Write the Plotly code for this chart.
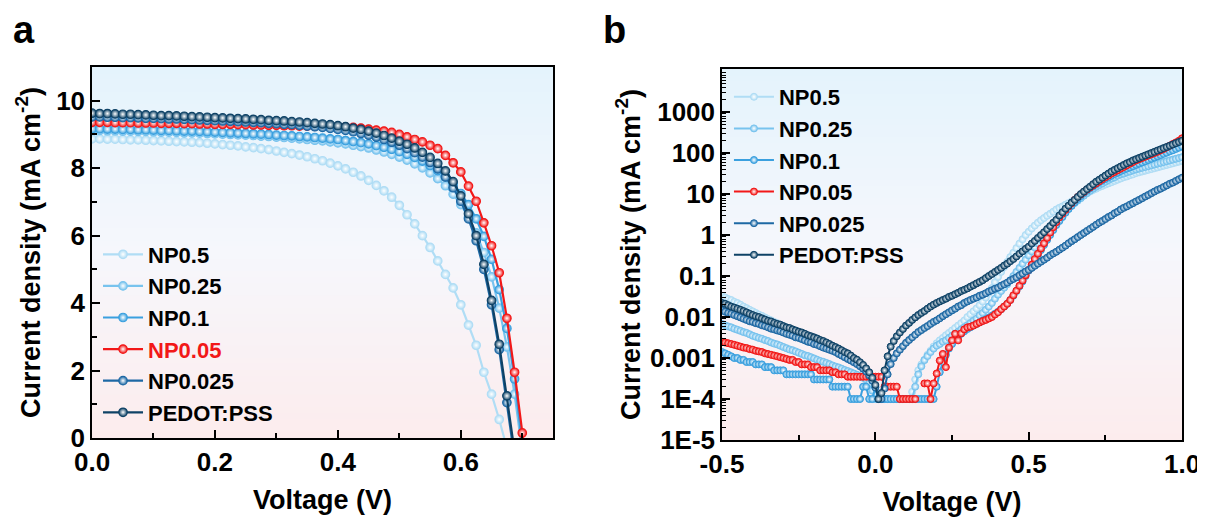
import plotly.graph_objects as go

# ---------------- data: panel a (J-V under illumination) ----------------
names = ["NP0.5", "NP0.25", "NP0.1", "NP0.05", "NP0.025", "PEDOT:PSS"]
colors = ["#b0ddf5", "#78c3ee", "#3aa0df", "#f21818", "#1d68a4", "#0e4266"]

Va = [0.0, 0.0125, 0.025, 0.0375, 0.05, 0.0625, 0.075, 0.0875, 0.1,
      0.1125, 0.125, 0.1375, 0.15, 0.1625, 0.175, 0.1875, 0.2,
      0.2125, 0.225, 0.2375, 0.25, 0.2625, 0.275, 0.2875, 0.3,
      0.3125, 0.325, 0.3375, 0.35, 0.3625, 0.375, 0.3875, 0.4,
      0.4125, 0.425, 0.4375, 0.45, 0.4625, 0.475, 0.4875, 0.5,
      0.5125, 0.525, 0.5375, 0.55, 0.5625, 0.575, 0.5875, 0.6,
      0.6125, 0.625, 0.6375, 0.65, 0.6625, 0.675, 0.6875, 0.7,
      0.7125]

Ja_np05 = [8.87, 8.87, 8.86, 8.86, 8.85, 8.84, 8.84, 8.83, 8.82,
           8.81, 8.80, 8.79, 8.78, 8.77, 8.76, 8.74, 8.72,
           8.70, 8.68, 8.66, 8.63, 8.61, 8.58, 8.55, 8.51,
           8.47, 8.43, 8.39, 8.34, 8.28, 8.22, 8.15, 8.07,
           7.98, 7.88, 7.77, 7.64, 7.49, 7.33, 7.14, 6.90,
           6.62, 6.35, 6.00, 5.65, 5.25, 4.85, 4.45, 3.95,
           3.35, 2.75, 1.95, 1.30, 0.55, -0.3, None, None,
           None]
Ja_np025 = [9.12, 9.12, 9.11, 9.11, 9.10, 9.10, 9.09, 9.09, 9.08,
            9.07, 9.07, 9.06, 9.05, 9.05, 9.04, 9.03, 9.02,
            9.01, 9.00, 8.99, 8.98, 8.97, 8.95, 8.94, 8.92,
            8.91, 8.89, 8.87, 8.85, 8.83, 8.81, 8.78, 8.75,
            8.72, 8.68, 8.64, 8.60, 8.54, 8.48, 8.41, 8.33,
            8.24, 8.13, 8.01, 7.86, 7.69, 7.48, 7.23, 6.92,
            6.55, 6.08, 5.50, 4.78, 3.85, 2.70, 1.30, -0.4,
            None]
Ja_np01 = [9.17, 9.17, 9.16, 9.16, 9.15, 9.15, 9.14, 9.14, 9.13,
           9.12, 9.12, 9.11, 9.10, 9.10, 9.09, 9.08, 9.07,
           9.06, 9.05, 9.04, 9.03, 9.02, 9.01, 9.00, 8.98,
           8.97, 8.96, 8.94, 8.93, 8.91, 8.89, 8.87, 8.85,
           8.82, 8.79, 8.76, 8.72, 8.67, 8.62, 8.56, 8.49,
           8.41, 8.32, 8.21, 8.08, 7.93, 7.75, 7.53, 7.25,
           6.92, 6.50, 5.98, 5.30, 4.40, 3.25, 1.75, -0.2,
           None]
Ja_np005 = [9.36, 9.36, 9.36, 9.35, 9.35, 9.35, 9.34, 9.34, 9.34,
            9.33, 9.33, 9.33, 9.32, 9.32, 9.31, 9.31, 9.30,
            9.30, 9.30, 9.29, 9.29, 9.28, 9.28, 9.27, 9.27,
            9.26, 9.26, 9.25, 9.25, 9.24, 9.24, 9.23, 9.23,
            9.22, 9.21, 9.19, 9.16, 9.13, 9.10, 9.06, 9.00,
            8.93, 8.85, 8.78, 8.68, 8.58, 8.38, 8.16, 7.89,
            7.47, 7.02, 6.38, 5.70, 4.90, 3.55, 1.95, 0.15,
            -1.6]
Ja_np0025 = [9.52, 9.52, 9.51, 9.51, 9.50, 9.50, 9.49, 9.48, 9.48,
             9.47, 9.46, 9.46, 9.45, 9.44, 9.43, 9.42, 9.41,
             9.40, 9.39, 9.38, 9.37, 9.36, 9.35, 9.33, 9.32,
             9.30, 9.29, 9.27, 9.25, 9.23, 9.21, 9.18, 9.15,
             9.12, 9.08, 9.03, 8.98, 8.92, 8.85, 8.77, 8.68,
             8.58, 8.46, 8.33, 8.17, 7.98, 7.74, 7.42, 7.02,
             6.50, 5.85, 5.00, 3.95, 2.62, 1.05, -0.6, None,
             None]
Ja_pedot = [9.63, 9.62, 9.62, 9.61, 9.60, 9.60, 9.59, 9.58, 9.57,
            9.56, 9.56, 9.55, 9.54, 9.53, 9.52, 9.51, 9.50,
            9.49, 9.48, 9.47, 9.46, 9.45, 9.44, 9.42, 9.41,
            9.40, 9.38, 9.37, 9.35, 9.33, 9.31, 9.29, 9.26,
            9.23, 9.19, 9.15, 9.10, 9.04, 8.97, 8.89, 8.80,
            8.71, 8.60, 8.47, 8.32, 8.14, 7.92, 7.60, 7.18,
            6.65, 6.00, 5.15, 4.08, 2.78, 1.25, -0.4, None,
            None]

# ---------------- data: panel b (dark J-V, log scale) ----------------
Vb = [-0.50, -0.49, -0.48, -0.47, -0.46, -0.45, -0.44, -0.43, -0.42, -0.41,
      -0.40, -0.39, -0.38, -0.37, -0.36, -0.35, -0.34, -0.33, -0.32, -0.31,
      -0.30, -0.29, -0.28, -0.27, -0.26, -0.25, -0.24, -0.23, -0.22, -0.21,
      -0.20, -0.19, -0.18, -0.17, -0.16, -0.15, -0.14, -0.13, -0.12, -0.11,
      -0.10, -0.09, -0.08, -0.07, -0.06, -0.05, -0.04, -0.03, -0.02, -0.01,
      0.00, 0.01, 0.02, 0.03, 0.04, 0.05, 0.06, 0.07, 0.08, 0.09,
      0.10, 0.11, 0.12, 0.13, 0.14, 0.15, 0.16, 0.17, 0.18, 0.19,
      0.20, 0.21, 0.22, 0.23, 0.24, 0.25, 0.26, 0.27, 0.28, 0.29,
      0.30, 0.31, 0.32, 0.33, 0.34, 0.35, 0.36, 0.37, 0.38, 0.39,
      0.40, 0.41, 0.42, 0.43, 0.44, 0.45, 0.46, 0.47, 0.48, 0.49,
      0.50, 0.51, 0.52, 0.53, 0.54, 0.55, 0.56, 0.57, 0.58, 0.59,
      0.60, 0.61, 0.62, 0.63, 0.64, 0.65, 0.66, 0.67, 0.68, 0.69,
      0.70, 0.71, 0.72, 0.73, 0.74, 0.75, 0.76, 0.77, 0.78, 0.79,
      0.80, 0.81, 0.82, 0.83, 0.84, 0.85, 0.86, 0.87, 0.88, 0.89,
      0.90, 0.91, 0.92, 0.93, 0.94, 0.95, 0.96, 0.97, 0.98, 0.99,
      1.00]

Jb_np05 = [3.3e-2, 3.0e-2, 2.75e-2, 2.6e-2, 2.35e-2, 2.2e-2, 2.0e-2, 1.8e-2, 1.65e-2, 1.5e-2,
           1.38e-2, 1.26e-2, 1.15e-2, 1.07e-2, 9.8e-3, 8.9e-3, 8.3e-3, 7.6e-3, 7.1e-3, 6.5e-3,
           6.0e-3, 5.6e-3, 5.2e-3, 4.9e-3, 4.6e-3, 4.3e-3, 4.0e-3, 3.7e-3, 3.5e-3, 3.2e-3,
           3.0e-3, 2.8e-3, 2.6e-3, 2.45e-3, 2.3e-3, 2.15e-3, 1.95e-3, 1.8e-3, 1.6e-3, 1.5e-3,
           1.35e-3, 1.2e-3, 1.07e-3, 9.5e-4, 8.3e-4, 7.1e-4, 5.9e-4, 4.7e-4, 3.5e-4, 2.2e-4,
           1e-4, 1e-4, 1e-4, 1e-4, 1e-4, 1e-4, 1e-4, 1e-4, 1e-4, 1e-4,
           1e-4, 1e-4, 1.5e-4, 3e-4, 5e-4, 7e-4, 9e-4, 1.2e-3, 1.5e-3, 1.9e-3,
           2.3e-3, 2.7e-3, 3.1e-3, 3.6e-3, 4.1e-3, 4.7e-3, 5.4e-3, 6.2e-3, 7.1e-3, 8.2e-3,
           1.0e-2, 1.17e-2, 1.38e-2, 1.62e-2, 1.95e-2, 2.4e-2, 3.0e-2, 3.9e-2, 5.1e-2, 7.1e-2,
           9.5e-2, 0.126, 0.166, 0.22, 0.29, 0.37, 0.48, 0.62, 0.79, 1.0,
           1.2, 1.45, 1.7, 2.0, 2.3, 2.6, 2.95, 3.3, 3.7, 4.2,
           4.6, 5.0, 5.5, 6.0, 6.6, 7.2, 7.9, 8.7, 9.5, 10.5,
           11.5, 12.6, 13.5, 14.8, 15.8, 17.0, 18.2, 19.5, 20.9, 22.4,
           24.0, 25.7, 26.9, 28.8, 30.2, 32.4, 33.9, 35.5, 37.2, 38.9,
           40.7, 42.7, 44.7, 46.8, 49.0, 51.3, 53.7, 56.2, 58.9, 61.7,
           64.6]
Jb_np025 = [6.8e-3, 6.3e-3, 5.9e-3, 5.6e-3, 5.2e-3, 4.9e-3, 4.6e-3, 4.3e-3, 4.1e-3, 3.8e-3,
            3.5e-3, 3.3e-3, 3.1e-3, 2.95e-3, 2.75e-3, 2.6e-3, 2.4e-3, 2.25e-3, 2.15e-3, 2.0e-3,
            1.86e-3, 1.74e-3, 1.62e-3, 1.55e-3, 1.45e-3, 1.35e-3, 1.26e-3, 1.17e-3, 1.12e-3, 1.05e-3,
            9.8e-4, 9.1e-4, 8.5e-4, 8.1e-4, 7.6e-4, 7.1e-4, 6.6e-4, 6.2e-4, 5.9e-4, 5.5e-4,
            5.1e-4, 4.8e-4, 4.5e-4, 4.2e-4, 3.9e-4, 3.6e-4, 3.3e-4, 3.0e-4, 2.4e-4, 1.6e-4,
            1e-4, 1e-4, 1e-4, 1e-4, 1e-4, 1e-4, 1e-4, 1e-4, 1e-4, 1e-4,
            1e-4, 1e-4, 1e-4, 2e-4, 4e-4, 6.3e-4, 8.9e-4, 1.12e-3, 1.4e-3, 1.7e-3,
            2.0e-3, 2.2e-3, 2.5e-3, 2.7e-3, 3.1e-3, 3.5e-3, 3.9e-3, 4.4e-3, 5.0e-3, 5.6e-3,
            6.3e-3, 7.1e-3, 8.1e-3, 9.1e-3, 1.1e-2, 1.26e-2, 1.5e-2, 1.8e-2, 2.2e-2, 2.8e-2,
            3.5e-2, 4.3e-2, 5.2e-2, 6.3e-2, 7.9e-2, 0.1, 0.126, 0.158, 0.2, 0.25,
            0.32, 0.4, 0.5, 0.63, 0.79, 1.0, 1.23, 1.51, 1.82, 2.19,
            2.63, 3.16, 3.72, 4.37, 5.13, 6.03, 6.92, 7.94, 9.12, 10.5,
            12.0, 13.5, 15.1, 16.6, 18.2, 20.0, 21.9, 24.0, 25.7, 28.2,
            30.2, 31.6, 33.9, 35.5, 38.0, 39.8, 41.7, 43.7, 45.7, 47.9,
            50.1, 52.5, 55.0, 57.5, 60.3, 63.1, 66.1, 69.2, 72.4, 75.9,
            79.4]
Jb_np01 = [1.4e-3, 1.3e-3, 1.2e-3, 1.1e-3, 1.0e-3, 1.0e-3, 9e-4, 9e-4, 8e-4, 8e-4,
           8e-4, 7e-4, 7e-4, 7e-4, 6e-4, 6e-4, 6e-4, 5e-4, 5e-4, 5e-4,
           5e-4, 4e-4, 4e-4, 4e-4, 4e-4, 4e-4, 4e-4, 4e-4, 4e-4, 4e-4,
           3e-4, 3e-4, 3e-4, 3e-4, 3e-4, 3e-4, 2e-4, 2e-4, 2e-4, 2e-4,
           2e-4, 2e-4, 1e-4, 1e-4, 1e-4, 1e-4, 2e-4, 2e-4, 1e-4, 1e-4,
           2e-4, 1e-4, 1e-4, 1e-4, 1e-4, 1e-4, 1e-4, 1e-4, 1e-4, 1e-4,
           1e-4, 1e-4, 1e-4, 1e-4, 1e-4, 1e-4, 1e-4, 1e-4, 1e-4, 1e-4,
           2e-4, 4.5e-4, 8e-4, 1.2e-3, 1.7e-3, 2.2e-3, 2.8e-3, 3.3e-3, 3.9e-3, 4.5e-3,
           5.1e-3, 5.6e-3, 6.2e-3, 6.8e-3, 7.4e-3, 8.1e-3, 8.8e-3, 9.7e-3, 1.08e-2, 1.2e-2,
           1.35e-2, 1.55e-2, 1.8e-2, 2.1e-2, 2.6e-2, 3.3e-2, 4.3e-2, 5.6e-2, 7.4e-2, 0.1,
           0.135, 0.18, 0.24, 0.32, 0.43, 0.57, 0.76, 1.0, 1.32, 1.75,
           2.2, 2.75, 3.5, 4.3, 5.2, 6.3, 7.6, 8.9, 10.5, 12.0,
           13.8, 15.5, 17.4, 19.5, 21.4, 23.4, 25.7, 28.2, 30.9, 33.1,
           36.3, 38.9, 41.7, 44.7, 47.9, 51.3, 55.0, 58.9, 63.1, 67.6,
           72.4, 77.6, 83.2, 89.1, 95.5, 102, 110, 117, 126, 135,
           145]
Jb_np005 = [2.5e-3, 2.4e-3, 2.3e-3, 2.2e-3, 2.1e-3, 2.0e-3, 1.9e-3, 1.8e-3, 1.75e-3, 1.65e-3,
            1.6e-3, 1.5e-3, 1.45e-3, 1.4e-3, 1.3e-3, 1.25e-3, 1.2e-3, 1.15e-3, 1.1e-3, 1.05e-3,
            1.0e-3, 9.5e-4, 9e-4, 9e-4, 8e-4, 8e-4, 7e-4, 7e-4, 7e-4, 6e-4,
            6e-4, 6e-4, 5e-4, 5e-4, 5e-4, 5e-4, 4.5e-4, 4.5e-4, 4e-4, 4e-4,
            4e-4, 3.5e-4, 3.5e-4, 3.5e-4, 3.5e-4, 3.5e-4, 3.5e-4, 3.5e-4, 3.5e-4, 3.5e-4,
            3.5e-4, 3.5e-4, 3.5e-4, 2e-4, 2e-4, 2e-4, 2e-4, 2e-4, 1e-4, 1e-4,
            1e-4, 1e-4, 1e-4, 1e-4, None, None, 2.4e-4, 2.4e-4, 1e-4, 2.4e-4,
            4.2e-4, 8.7e-4, 1.26e-3, 6e-4, 1.8e-3, 2.7e-3, 3.9e-3, 2.7e-3, 4.0e-3, 5.0e-3,
            5.6e-3, 5.8e-3, 6.2e-3, 6.8e-3, 7.4e-3, 8.0e-3, 8.5e-3, 9.2e-3, 1.0e-2, 1.15e-2,
            1.3e-2, 1.55e-2, 1.8e-2, 2.1e-2, 2.6e-2, 3.4e-2, 4.4e-2, 5.8e-2, 7.8e-2, 0.105,
            0.141, 0.19, 0.26, 0.35, 0.47, 0.63, 0.85, 1.15, 1.55, 2.05,
            2.7, 3.3, 4.1, 5.0, 6.0, 7.2, 8.5, 9.8, 11.2, 12.9,
            14.5, 16.2, 18.2, 20.4, 22.9, 25.7, 28.2, 31.6, 34.7, 38.0,
            41.7, 45.7, 50.1, 55.0, 60.3, 66.1, 70.8, 75.9, 81.3, 87.1,
            93.3, 100, 107, 117, 126, 138, 151, 166, 182, 200,
            229]
Jb_np0025 = [1.45e-2, 1.35e-2, 1.26e-2, 1.2e-2, 1.12e-2, 1.05e-2, 9.8e-3, 9.1e-3, 8.5e-3, 7.9e-3,
             7.6e-3, 7.1e-3, 6.8e-3, 6.3e-3, 6.0e-3, 5.6e-3, 5.2e-3, 5.0e-3, 4.7e-3, 4.5e-3,
             4.2e-3, 3.9e-3, 3.7e-3, 3.5e-3, 3.2e-3, 3.1e-3, 2.9e-3, 2.7e-3, 2.5e-3, 2.4e-3,
             2.2e-3, 2.1e-3, 1.95e-3, 1.8e-3, 1.7e-3, 1.6e-3, 1.5e-3, 1.4e-3, 1.26e-3, 1.15e-3,
             1.05e-3, 9.5e-4, 8.7e-4, 7.9e-4, 7.1e-4, 6.3e-4, 5.5e-4, 4.7e-4, 3.8e-4, 2.8e-4,
             1.9e-4, 1.0e-4, 1.0e-4, 1.8e-4, 4.0e-4, 7.1e-4, 1.0e-3, 1.3e-3, 1.6e-3, 1.95e-3,
             2.35e-3, 2.75e-3, 3.2e-3, 3.7e-3, 4.3e-3, 4.8e-3, 5.4e-3, 6.0e-3, 6.8e-3, 7.6e-3,
             8.3e-3, 9.3e-3, 1.05e-2, 1.17e-2, 1.3e-2, 1.45e-2, 1.6e-2, 1.8e-2, 1.95e-2, 2.2e-2,
             2.4e-2, 2.6e-2, 2.8e-2, 3.0e-2, 3.3e-2, 3.5e-2, 3.8e-2, 4.2e-2, 4.5e-2, 4.9e-2,
             5.2e-2, 5.8e-2, 6.3e-2, 6.9e-2, 7.8e-2, 8.5e-2, 9.3e-2, 0.105, 0.115, 0.129,
             0.141, 0.158, 0.178, 0.20, 0.224, 0.25, 0.28, 0.32, 0.355, 0.39,
             0.44, 0.49, 0.55, 0.63, 0.71, 0.79, 0.89, 1.0, 1.12, 1.26,
             1.41, 1.58, 1.78, 2.0, 2.2, 2.45, 2.75, 3.0, 3.4, 3.7,
             4.2, 4.6, 5.0, 5.5, 6.0, 6.6, 7.2, 7.9, 8.7, 9.5,
             10.5, 11.5, 12.6, 13.5, 14.8, 16.2, 17.8, 19.0, 20.9, 22.9,
             25]
Jb_pedot = [2.2e-2, 2.1e-2, 1.95e-2, 1.8e-2, 1.7e-2, 1.6e-2, 1.5e-2, 1.4e-2, 1.3e-2, 1.2e-2,
            1.12e-2, 1.05e-2, 1.0e-2, 9.3e-3, 8.7e-3, 8.1e-3, 7.8e-3, 7.2e-3, 6.8e-3, 6.5e-3,
            6.0e-3, 5.6e-3, 5.4e-3, 5.0e-3, 4.7e-3, 4.4e-3, 4.2e-3, 3.9e-3, 3.6e-3, 3.4e-3,
            3.2e-3, 3.0e-3, 2.75e-3, 2.6e-3, 2.4e-3, 2.2e-3, 2.0e-3, 1.85e-3, 1.7e-3, 1.55e-3,
            1.4e-3, 1.3e-3, 1.15e-3, 1.0e-3, 9.1e-4, 7.9e-4, 6.8e-4, 5.6e-4, 4.5e-4, 3.3e-4,
            2.2e-4, 1.0e-4, 1.4e-4, 5.0e-4, 1.1e-3, 1.9e-3, 2.6e-3, 3.4e-3, 4.2e-3, 5.1e-3,
            6.2e-3, 7.2e-3, 8.5e-3, 9.8e-3, 1.12e-2, 1.26e-2, 1.4e-2, 1.6e-2, 1.8e-2, 2.0e-2,
            2.2e-2, 2.4e-2, 2.6e-2, 2.8e-2, 3.1e-2, 3.3e-2, 3.6e-2, 3.9e-2, 4.3e-2, 4.6e-2,
            5.0e-2, 5.5e-2, 6.0e-2, 6.6e-2, 7.2e-2, 7.9e-2, 8.9e-2, 0.100, 0.112, 0.126,
            0.141, 0.158, 0.18, 0.20, 0.23, 0.26, 0.30, 0.35, 0.40, 0.46,
            0.52, 0.62, 0.72, 0.85, 1.0, 1.17, 1.4, 1.66, 2.0, 2.35,
            3.0, 3.6, 4.4, 5.2, 6.2, 7.2, 8.5, 10, 11.5, 13.2,
            15.1, 17.4, 20, 22.4, 25.1, 28.2, 31.6, 35.5, 38.9, 42.7,
            46.8, 51.3, 56.2, 60.3, 66.1, 70.8, 75.9, 81.3, 87.1, 93.3,
            100, 107, 115, 123, 132, 141, 151, 162, 174, 186,
            200]

Ja = [Ja_np05, Ja_np025, Ja_np01, Ja_np005, Ja_np0025, Ja_pedot]
Jb = [Jb_np05, Jb_np025, Jb_np01, Jb_np005, Jb_np0025, Jb_pedot]

ya_ticks = [0, 2, 4, 6, 8, 10]
xa_ticks = [0.0, 0.2, 0.4, 0.6]
xb_ticks = [-0.5, 0.0, 0.5, 1.0]
yb_ticks = [1e-5, 1e-4, 1e-3, 1e-2, 1e-1, 1, 10, 100, 1000]
yb_text = ["1E-5", "1E-4", "0.001", "0.01", "0.1", "1", "10", "100", "1000"]

# ---------------- figure ----------------
# the page body has an 8 px margin, so the figure is 16 px smaller than the window
W, H = 1197, 514
FONT = "Liberation Sans, Arial, sans-serif"
fig = go.Figure()

for i, nm in enumerate(names):
    label = nm if nm != "NP0.05" else "<span style='color:#f21818'>NP0.05</span>"
    fig.add_trace(go.Scatter(
        x=Va, y=Ja[i], mode="lines+markers", name=label,
        line=dict(color=colors[i], width=2.2),
        marker=dict(symbol="circle", size=8.5, color=colors[i],
                    line=dict(color=colors[i], width=1.2),
                    gradient=dict(type="radial", color="white")),
        xaxis="x", yaxis="y", legend="legend", connectgaps=False))

for i, nm in enumerate(names):
    fig.add_trace(go.Scatter(
        x=Vb, y=Jb[i], mode="lines+markers", name=nm,
        line=dict(color=colors[i], width=2),
        marker=dict(symbol="circle", size=7, color=colors[i],
                    line=dict(color=colors[i], width=1),
                    gradient=dict(type="radial", color="white")),
        xaxis="x2", yaxis="y2", legend="legend2", connectgaps=False))

# gradient plot backgrounds
def lerp(c1, c2, t):
    return tuple(round(a + (b - a) * t) for a, b in zip(c1, c2))

top_c = (228, 243, 252)
mid_c = (246, 247, 252)
bot_c = (252, 236, 237)
shapes = []
n = 60
for xr, yr in (("x", "y"), ("x2", "y2")):
    for k in range(n):
        t = (k + 0.5) / n
        c = lerp(bot_c, mid_c, t / 0.5) if t < 0.5 else lerp(mid_c, top_c, (t - 0.5) / 0.5)
        shapes.append(dict(type="rect", xref=f"{xr} domain", yref=f"{yr} domain",
                           x0=0, x1=1, y0=k / n, y1=min(1, (k + 1) / n + 0.004),
                           fillcolor="rgb(%d,%d,%d)" % c, line=dict(width=0),
                           layer="below"))

tickfont = dict(family=FONT, size=26, color="black", weight="bold")
titlefont = dict(family=FONT, size=27, color="black", weight="bold")
axis_common = dict(showline=True, linecolor="black", linewidth=1.5, mirror=True,
                   showgrid=False, zeroline=False, ticks="inside", tickcolor="black",
                   tickwidth=1.5, ticklen=8, tickfont=tickfont, automargin=False)

fig.update_layout(
    width=W, height=H,
    margin=dict(l=0, r=0, t=0, b=0, autoexpand=False),
    paper_bgcolor="white", plot_bgcolor="rgba(0,0,0,0)",
    shapes=shapes,
    showlegend=True,
    xaxis=dict(domain=[0.0702, 0.4553], range=[0, 0.75], anchor="y",
               tickvals=xa_ticks, ticktext=["0.0", "0.2", "0.4", "0.6"],
               minor=dict(tickvals=[0.1, 0.3, 0.5, 0.7], ticks="inside", ticklen=5,
                          tickwidth=1.5, tickcolor="black"),
               title=dict(text="Voltage (V)", font=titlefont, standoff=14),
               **axis_common),
    yaxis=dict(domain=[0.1634, 0.8852], range=[0, 11], anchor="x",
               tickvals=ya_ticks,
               minor=dict(tickvals=[1, 3, 5, 7, 9], ticks="inside", ticklen=5,
                          tickwidth=1.5, tickcolor="black"),
               title=dict(text="Current density (mA cm<sup>-2</sup>)", font=titlefont,
                          standoff=8),
               **axis_common),
    xaxis2=dict(domain=[0.5965, 0.9808], range=[-0.5, 1.0], anchor="y2",
                tickvals=xb_ticks, ticktext=["-0.5", "0.0", "0.5", "1.0"],
                minor=dict(tickvals=[-0.25, 0.25, 0.75], ticks="inside", ticklen=5,
                           tickwidth=1.5, tickcolor="black"),
                title=dict(text="Voltage (V)", font=titlefont, standoff=14),
                **axis_common),
    yaxis2=dict(domain=[0.1595, 0.8813], type="log", range=[-5, 4.05], anchor="x2",
                tickvals=yb_ticks, ticktext=yb_text,
                minor=dict(tickvals=[m * 10 ** e for e in range(-5, 4) for m in range(2, 10)],
                           ticks="inside", ticklen=4, tickwidth=1, tickcolor="black"),
                title=dict(text="Current density (mA cm<sup>-2</sup>)", font=titlefont,
                           standoff=2),
                **axis_common),
    legend=dict(x=0.0752, y=0.5613, xanchor="left", yanchor="top",
                bgcolor="rgba(0,0,0,0)", borderwidth=0, itemwidth=40,
                font=dict(family=FONT, size=22, color="black", weight="bold"),
                tracegroupgap=0),
    legend2=dict(x=0.6023, y=0.8677, xanchor="left", yanchor="top",
                 bgcolor="rgba(0,0,0,0)", borderwidth=0, itemwidth=40,
                 font=dict(family=FONT, size=22, color="black", weight="bold"),
                 tracegroupgap=0),
    annotations=[
        dict(text="a", x=0.0025, y=0.957, xref="paper", yref="paper",
             xanchor="left", yanchor="middle", showarrow=False,
             font=dict(family=FONT, size=38, color="black", weight="bold")),
        dict(text="b", x=0.4954, y=0.957, xref="paper", yref="paper",
             xanchor="left", yanchor="middle", showarrow=False,
             font=dict(family=FONT, size=38, color="black", weight="bold")),
    ],
)

fig.write_html("out.html")
